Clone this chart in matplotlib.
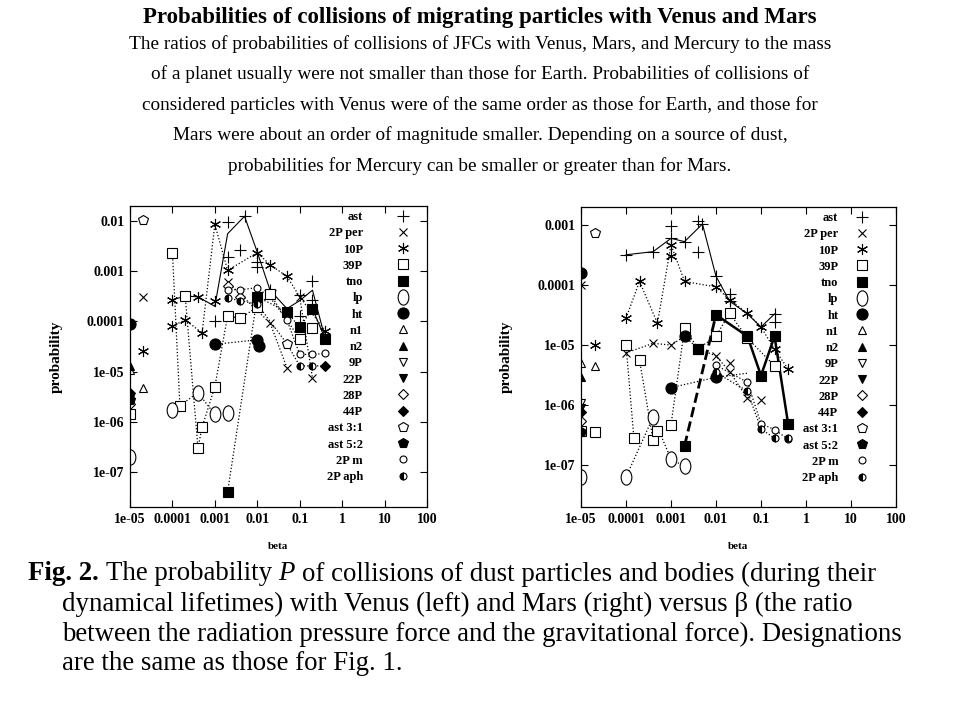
import matplotlib
matplotlib.use("Agg")
import matplotlib.pyplot as plt
from matplotlib.path import Path
from matplotlib.transforms import Affine2D

SERIF = "Liberation Serif"

TITLE = "Probabilities of collisions of migrating particles with Venus and Mars"
INTRO = [
    "The ratios of probabilities of collisions of JFCs with Venus, Mars, and Mercury to the mass",
    "of a planet usually were not smaller than those for Earth. Probabilities of collisions of",
    "considered particles with Venus were of the same order as those for Earth, and those for",
    "Mars were about an order of magnitude smaller. Depending on a source of dust,",
    "probabilities for Mercury can be smaller or greater than for Mars.",
]

X_TICKS = [1e-5, 1e-4, 1e-3, 1e-2, 0.1, 1, 10, 100]
X_LABELS = ["1e-05", "0.0001", "0.001", "0.01", "0.1", "1", "10", "100"]
Y_TICKS = [1e-7, 1e-6, 1e-5, 1e-4, 1e-3, 1e-2]
Y_LABELS = ["1e-07", "1e-06", "1e-05", "0.0001", "0.001", "0.01"]

NAMES = ["ast", "2P per", "10P", "39P", "tno", "lp", "ht", "n1", "n2", "9P",
         "22P", "28P", "44P", "ast 3:1", "ast 5:2", "2P m", "2P aph"]

# ---- Venus (left): points per source, (beta, P)
v_ast = ([0.002, 0.002, 0.004, 0.005, 0.001, 0.01, 0.01, 0.1, 0.1, 0.2, 0.2, 0.02],
         [9.6e-3, 1.9e-3, 2.7e-3, 1.26e-2, 1.0e-4, 1.5e-3, 1.2e-3, 1.3e-4, 3.4e-4, 6.3e-4, 2.7e-4, 4.3e-4])
v_2pper = ([2e-5, 0.002, 0.02, 0.05, 0.1, 0.2],
           [3.1e-4, 6.1e-4, 9.3e-5, 1.2e-5, 3.1e-4, 7.4e-6])
v_10p = ([2e-5, 1e-4, 1e-4, 2e-4, 4e-4, 5e-4, 1e-3, 1e-3, 2e-3, 0.01, 0.02, 0.05, 0.4],
         [2.6e-5, 2.7e-4, 8.1e-5, 1.07e-4, 3.1e-4, 5.9e-5, 2.5e-4, 8.6e-3, 1.04e-3, 2.35e-3, 1.35e-3, 7.9e-4, 6.4e-5])
v_39p = ([1e-5, 1e-4, 1.5e-4, 2e-4, 4e-4, 5e-4, 1e-3, 2e-3, 4e-3, 0.01, 0.02, 0.1, 0.2],
         [1.4e-6, 2.35e-3, 2.1e-6, 3.2e-4, 3.0e-7, 7.8e-7, 5.0e-6, 1.3e-4, 1.15e-4, 1.95e-4, 3.5e-4, 4.4e-5, 7.4e-5])
v_tno = ([0.002, 0.01, 0.05, 0.1, 0.2, 0.4],
         [4.0e-8, 3.1e-4, 1.55e-4, 7.6e-5, 1.8e-4, 4.4e-5])
v_lp = ([1e-5, 1e-4, 4e-4, 1e-3, 2e-3],
        [2.0e-7, 1.74e-6, 3.8e-6, 1.4e-6, 1.5e-6])
v_ht = ([1e-5, 1e-3, 0.01, 0.011],
        [9.0e-5, 3.5e-5, 4.3e-5, 3.2e-5])
v_n1 = ([1e-5, 2e-5], [1.1e-5, 4.7e-6])
v_n2 = ([1e-5], [1.3e-5])
v_9p = ([1e-5], [2.2e-6])
v_22p = ([1e-5], [2.9e-6])
v_28p = ([1e-5, 0.002, 0.004], [2.3e-6, 5.0e-4, 3.0e-4])
v_44p = ([1e-5, 0.4], [3.7e-6, 1.3e-5])
v_ast31 = ([2e-5, 0.05], [1.06e-2, 3.6e-5])
v_ast52 = ([1e-5], [2.7e-6])
v_2pm = ([0.002, 0.004, 0.01, 0.05, 0.1, 0.2, 0.4],
         [4.3e-4, 4.3e-4, 4.7e-4, 1.06e-4, 2.2e-5, 2.2e-5, 2.3e-5])
v_2paph = ([0.002, 0.004, 0.01, 0.1, 0.2],
           [2.9e-4, 2.6e-4, 2.2e-4, 1.3e-5, 1.3e-5])

# Venus connecting lines: (beta, P, style, width)
v_lines = [
    ([1e-4, 2e-4, 4e-4, 1e-3, 2e-3, 5e-3, 1e-2, 2e-2, 5e-2, 0.1, 0.2, 0.4],
     [2.7e-4, 3.2e-4, 3.1e-4, 2.0e-4, 5.6e-3, 1.25e-2, 2.4e-3, 4.2e-4, 1.8e-4, 2.6e-4, 4.2e-4, 4.5e-5], "-", 0.8),
    ([1e-4, 2e-4, 5e-4, 1e-3, 2e-3, 1e-2, 2e-2, 5e-2, 0.1, 0.4],
     [8.1e-5, 1.07e-4, 5.9e-5, 8.6e-3, 1.04e-3, 2.35e-3, 1.35e-3, 7.9e-4, 3.1e-4, 6.4e-5], ":", 0.9),
    ([1e-4, 1.5e-4], [2.35e-3, 2.1e-6], ":", 0.9),
    ([2e-4, 4e-4, 5e-4, 1e-3, 2e-3, 4e-3, 1e-2, 2e-2, 0.1, 0.2],
     [3.2e-4, 3.0e-7, 7.8e-7, 5.0e-6, 1.3e-4, 1.15e-4, 1.95e-4, 3.5e-4, 4.4e-5, 7.4e-5], ":", 0.9),
    ([0.002, 0.01, 0.05, 0.1, 0.2], [4.0e-8, 3.1e-4, 1.55e-4, 7.6e-5, 1.8e-4], ":", 0.9),
    ([0.2, 0.4], [1.8e-4, 4.4e-5], "-", 0.8),
    ([1e-4, 1.5e-4, 4e-4, 1e-3, 2e-3], [1.74e-6, 2.1e-6, 3.8e-6, 1.4e-6, 1.5e-6], ":", 0.9),
    ([1e-3, 1e-2], [3.5e-5, 4.3e-5], ":", 0.9),
    ([0.002, 0.02, 0.05], [6.1e-4, 9.3e-5, 1.2e-5], ":", 0.9),
    ([0.1, 0.2], [3.1e-4, 7.4e-6], ":", 0.9),
    ([0.002, 0.004, 0.01, 0.02, 0.05, 0.1, 0.2, 0.4],
     [4.3e-4, 4.3e-4, 4.7e-4, 3.0e-4, 1.06e-4, 2.2e-5, 2.2e-5, 2.3e-5], ":", 0.9),
    ([0.002, 0.004, 0.01, 0.05, 0.1, 0.2, 0.4],
     [2.9e-4, 2.6e-4, 2.2e-4, 3.6e-5, 1.3e-5, 1.3e-5, 1.3e-5], ":", 0.9),
]

# ---- Mars (right)
m_ast = ([1e-4, 4e-4, 1e-3, 1e-3, 2e-3, 4e-3, 5e-3, 4e-3, 0.01, 0.02, 0.02, 0.2, 0.2],
         [3.2e-4, 3.6e-4, 6.0e-4, 9.6e-4, 5.3e-4, 1.18e-3, 1.04e-3, 3.5e-4, 1.4e-4, 7.1e-5, 5.4e-5, 3.3e-5, 2.4e-5])
m_2pper = ([1e-5, 1e-4, 4e-4, 1e-3, 0.01, 0.02, 0.02, 0.05, 0.1],
           [1.0e-4, 7.4e-6, 1.07e-5, 1.0e-5, 6.6e-6, 5.0e-6, 3.6e-6, 1.3e-6, 1.2e-6])
m_10p = ([2e-5, 1e-4, 2e-4, 5e-4, 1e-3, 1e-3, 2e-3, 0.01, 0.02, 0.05, 0.1, 0.2, 0.4],
         [1.0e-5, 2.8e-5, 1.15e-4, 2.3e-5, 4.7e-4, 3.0e-4, 1.15e-4, 9.3e-5, 5.7e-5, 3.4e-5, 2.0e-5, 8.5e-6, 4.0e-6])
m_39p = ([1e-5, 2e-5, 1e-4, 1.5e-4, 2e-4, 4e-4, 5e-4, 1e-3, 2e-3, 4e-3, 0.01, 0.02, 0.05, 0.2],
         [3.7e-7, 3.6e-7, 1.0e-5, 2.8e-7, 5.6e-6, 2.6e-7, 3.7e-7, 4.7e-7, 1.9e-5, 8.7e-6, 1.4e-5, 3.4e-5, 1.3e-5, 4.5e-6])
m_tno = ([2e-3, 4e-3, 0.01, 0.05, 0.1, 0.2, 0.4],
         [2.1e-7, 8.5e-6, 3.2e-5, 1.4e-5, 3.1e-6, 1.4e-5, 4.9e-7])
m_lp = ([1e-5, 1e-4, 4e-4, 1e-3, 2e-3],
        [6.3e-8, 6.3e-8, 6.3e-7, 1.26e-7, 9.5e-8])
m_ht = ([1e-5, 1e-3, 0.01, 2e-3],
        [1.6e-4, 1.95e-6, 2.9e-6, 1.4e-5])
m_n1 = ([1e-5, 2e-5], [5.1e-6, 4.5e-6])
m_n2 = ([1e-5], [2.9e-6])
m_9p = ([1e-5], [1.1e-6])
m_22p = ([1e-5], [9.0e-7])
m_28p = ([1e-5], [5.5e-7])
m_44p = ([1e-5], [7.6e-7])
m_ast31 = ([2e-5], [7.4e-4])
m_ast52 = ([1e-5], [3.5e-7])
m_2pm = ([0.01, 0.05, 0.1, 0.2, 0.4], [4.6e-6, 2.4e-6, 4.9e-7, 3.9e-7, 2.7e-7])
m_2paph = ([0.01, 0.05, 0.1, 0.2, 0.4], [3.5e-6, 1.7e-6, 4.0e-7, 2.8e-7, 2.8e-7])

m_lines = [
    ([1e-4, 4e-4, 1e-3, 2e-3, 5e-3, 0.01, 0.02, 0.05, 0.1, 0.2],
     [3.2e-4, 3.6e-4, 6.0e-4, 5.3e-4, 1.04e-3, 1.4e-4, 5.4e-5, 3.3e-5, 2.0e-5, 3.3e-5], "-", 0.8),
    ([1e-4, 2e-4, 5e-4, 1e-3, 2e-3, 0.01, 0.02, 0.05, 0.1, 0.2, 0.4],
     [2.8e-5, 1.15e-4, 2.3e-5, 4.7e-4, 1.15e-4, 9.3e-5, 5.7e-5, 3.4e-5, 2.0e-5, 8.5e-6, 4.0e-6], ":", 0.9),
    ([1e-4, 4e-4, 1e-3, 2e-3, 4e-3, 0.01, 0.02, 0.05],
     [7.4e-6, 1.07e-5, 1.0e-5, 1.4e-5, 8.7e-6, 6.6e-6, 3.6e-6, 1.3e-6], ":", 0.9),
    ([1e-4, 1.5e-4], [1.0e-5, 2.8e-7], ":", 0.9),
    ([2e-4, 4e-4], [5.6e-6, 2.6e-7], ":", 0.9),
    ([1e-3, 2e-3, 4e-3, 0.01, 0.02, 0.05, 0.2],
     [4.7e-7, 1.9e-5, 8.7e-6, 1.4e-5, 3.4e-5, 1.3e-5, 4.5e-6], ":", 0.9),
    ([2e-3, 0.01], [2.1e-7, 3.2e-5], "--", 2.0),
    ([0.01, 0.05, 0.1, 0.2, 0.4], [3.2e-5, 1.4e-5, 3.1e-6, 1.4e-5, 4.9e-7], "-", 1.8),
    ([1e-4, 4e-4, 1e-3, 2e-3], [6.3e-8, 6.3e-7, 1.26e-7, 9.5e-8], ":", 0.9),
    ([1e-3, 0.01, 0.05], [1.95e-6, 2.9e-6, 3.4e-6], ":", 0.9),
    ([0.01, 0.05, 0.1, 0.2, 0.4], [4.6e-6, 2.4e-6, 4.9e-7, 3.9e-7, 2.7e-7], ":", 0.9),
    ([0.01, 0.05, 0.1, 0.2], [3.5e-6, 1.7e-6, 4.0e-7, 2.8e-7], ":", 0.9),
]

venus_pts = [v_ast, v_2pper, v_10p, v_39p, v_tno, v_lp, v_ht, v_n1, v_n2, v_9p,
             v_22p, v_28p, v_44p, v_ast31, v_ast52, v_2pm, v_2paph]
mars_pts = [m_ast, m_2pper, m_10p, m_39p, m_tno, m_lp, m_ht, m_n1, m_n2, m_9p,
            m_22p, m_28p, m_44p, m_ast31, m_ast52, m_2pm, m_2paph]

ellipse = Path.unit_circle().transformed(Affine2D().scale(0.7, 1.0))
STYLES = [
    dict(marker="+", ms=8, mew=0.8, mfc="none"),
    dict(marker="x", ms=6, mew=0.8, mfc="none"),
    dict(marker=(6, 2, 0), ms=8, mew=0.8, mfc="none"),
    dict(marker="s", ms=7, mew=0.8, mfc="white"),
    dict(marker="s", ms=7, mew=0.8, mfc="black"),
    dict(marker=ellipse, ms=11, mew=0.8, mfc="white"),
    dict(marker="o", ms=8, mew=0.8, mfc="black"),
    dict(marker="^", ms=6, mew=0.8, mfc="white"),
    dict(marker="^", ms=6, mew=0.8, mfc="black"),
    dict(marker="v", ms=6, mew=0.8, mfc="white"),
    dict(marker="v", ms=6, mew=0.8, mfc="black"),
    dict(marker="D", ms=5, mew=0.8, mfc="white"),
    dict(marker="D", ms=5, mew=0.8, mfc="black"),
    dict(marker="p", ms=7, mew=0.8, mfc="white"),
    dict(marker="p", ms=7, mew=0.8, mfc="black"),
    dict(marker="o", ms=5, mew=0.8, mfc="white"),
    dict(marker="o", ms=5, mew=0.8, mfc="black", fillstyle="left", markerfacecoloralt="white"),
]


def draw_panel(ax, pts, lines, ylim, nytick, leg_anchor, leg_txtpad):
    for b, p, ls, lw in lines:
        ax.plot(b, p, color="black", ls=ls, lw=lw)
    for (b, p), name, st in zip(pts, NAMES, STYLES):
        ax.plot(b, p, ls="none", color="black", mec="black", label=name, **st)
    ax.set_xscale("log")
    ax.set_yscale("log")
    ax.set_xlim(1e-5, 100)
    ax.set_ylim(*ylim)
    ax.set_xticks(X_TICKS)
    ax.set_xticklabels(X_LABELS)
    ax.set_yticks(Y_TICKS[:nytick])
    ax.set_yticklabels(Y_LABELS[:nytick])
    ax.minorticks_off()
    ax.tick_params(direction="in", length=5, width=0.8, top=True, right=True, pad=4)
    for lab in ax.get_xticklabels() + ax.get_yticklabels():
        lab.set_fontfamily(SERIF)
        lab.set_fontweight("bold")
        lab.set_fontsize(10)
    for sp in ax.spines.values():
        sp.set_linewidth(0.9)
    ax.set_xlabel("beta", fontfamily=SERIF, fontweight="bold", fontsize=8, labelpad=12)
    ax.set_ylabel("probability", fontfamily=SERIF, fontweight="bold", fontsize=11)
    ax.legend(loc="upper right", bbox_to_anchor=leg_anchor, markerfirst=False,
              frameon=False, numpoints=1, handlelength=2.0, handletextpad=leg_txtpad,
              labelspacing=0.34, borderaxespad=0.0, borderpad=0.4,
              prop=dict(family=SERIF, weight="bold", size=9))


fig = plt.figure(figsize=(9.6, 7.2), dpi=100)
ax1 = fig.add_axes([130 / 960, 1 - 507 / 720, 297 / 960, 301 / 720])
ax2 = fig.add_axes([581 / 960, 1 - 507 / 720, 315 / 960, 300 / 720])
draw_panel(ax1, venus_pts, v_lines, (2e-8, 0.02), 6, (0.978, 1.0), 2.2)
draw_panel(ax2, mars_pts, m_lines, (2e-8, 2e-3), 5, (0.948, 1.0), 0.9)
ax1.yaxis.set_label_coords(-0.225, 0.5)
ax2.yaxis.set_label_coords(-0.216, 0.5)

# header text
fig.text(0.5, 1 - 18 / 720, TITLE, ha="center", va="center", fontsize=16.5,
         fontweight="bold", family=SERIF)
for i, line in enumerate(INTRO):
    fig.text(0.5, 1 - (44 + 30.5 * i) / 720, line, ha="center", va="center",
             fontsize=13.9, family=SERIF)

# caption with mixed styles
renderer = fig.canvas.get_renderer()
CAP_SIZE = 19.4


def text_width(s, **kw):
    t = fig.text(0, 0, s, fontsize=CAP_SIZE, family=SERIF, **kw)
    w = t.get_window_extent(renderer=renderer).width
    t.remove()
    return w


space_w = text_width("x x") - text_width("xx")


def rich_line(x_px, y_px, runs):
    x = x_px
    for s, kw in runs:
        t = fig.text(x / 960, 1 - y_px / 720, s, ha="left", va="center",
                     fontsize=CAP_SIZE, family=SERIF, **kw)
        x += t.get_window_extent(renderer=renderer).width + space_w


rich_line(28, 574, [("Fig. 2.", dict(fontweight="bold")),
                    ("The probability", {}), ("P", dict(style="italic")),
                    ("of collisions of dust particles and bodies (during their", {})])
rich_line(62, 604, [("dynamical lifetimes) with Venus (left) and Mars (right) versus \u03b2 (the ratio", {})])
rich_line(62, 634, [("between the radiation pressure force and the gravitational force). Designations", {})])
rich_line(62, 664, [("are the same as those for Fig. 1.", {})])

fig.savefig("out.png", dpi=100)
